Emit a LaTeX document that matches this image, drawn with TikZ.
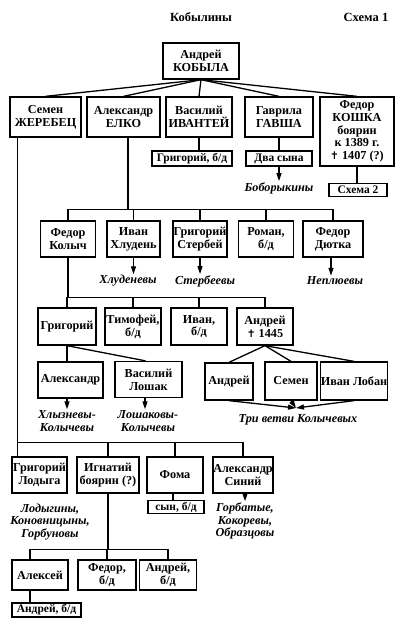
\documentclass[tikz,border=0pt]{standalone}
\usepackage{fontspec}
\setmainfont{Liberation Serif}
\newfontfamily\symfont{DejaVu Sans}
\usetikzlibrary{arrows.meta}
\newcommand{\dcross}{{\symfont\fontsize{10.5}{10}\selectfont ✝}}
\begin{document}
\begin{tikzpicture}[x=1pt,y=-1pt,
  box/.style={draw, line width=1.3pt, align=center, inner sep=0pt, font=\fontsize{12.2}{12.8}\selectfont\bfseries},
  sbox/.style={box, font=\fontsize{11.5}{12}\selectfont\bfseries},
  desc/.style={align=center, inner sep=1pt, font=\fontsize{12.2}{12.8}\selectfont\bfseries\itshape},
  ttl/.style={inner sep=0pt, font=\fontsize{12.5}{13}\selectfont\bfseries},
  link/.style={line width=1.3pt},
  arr/.style={line width=1.3pt, -{Triangle[length=8pt,width=5pt]}},
  ]
\useasboundingbox (0,0) rectangle (400,627);

% titles
\node[ttl] (title) at (201,17) {Кобылины};
\node[ttl] (scheme) at (366,17) {Схема 1};

% generation 1
\node[box, minimum width=76, minimum height=36] (top) at (201,61) {Андрей\\КОБЫЛА};

% generation 2
\node[box, minimum width=71, minimum height=40] (semen) at (45.5,117) {Семен\\ЖЕРЕБЕЦ};
\node[box, minimum width=73, minimum height=40] (elko) at (123.5,117) {Александр\\ЕЛКО};
\node[box, minimum width=66, minimum height=40] (vasiliy) at (199,117) {Василий\\ИВАНТЕЙ};
\node[box, minimum width=68, minimum height=40] (gavrila) at (279,117) {Гаврила\\ГАВША};
\node[box, minimum width=74, minimum height=69] (koshka) at (357,131.5) {Федор\\КОШКА\\боярин\\к 1389 г.\\\dcross\ 1407 (?)};

\node[sbox, minimum width=80, minimum height=15] (grig1) at (192,158.5) {Григорий, б/д};
\node[sbox, minimum width=66, minimum height=15] (dva) at (279,158.5) {Два сына};
\node[desc] (bobor) at (279,188) {Боборыкины};
\node[sbox, minimum width=58, minimum height=13] (shema2) at (358,190) {Схема 2};

\foreach \n in {semen,elko,vasiliy,gavrila,koshka}
  \draw[link] (top.south) -- (\n.north);
\draw[link] (vasiliy.south) -- (vasiliy.south |- grig1.north);
\draw[link] (gavrila.south) -- (dva.north);
\draw[arr] (dva.south) -- (bobor.north);
\draw[link] (koshka.south) -- (koshka.south |- shema2.north);

% generation 3 (children of Elko)
\node[box, minimum width=55, minimum height=36] (kolych) at (68,239) {Федор\\Колыч};
\node[box, minimum width=53, minimum height=36] (hluden) at (133.5,239) {Иван\\Хлудень};
\node[box, minimum width=54, minimum height=36] (sterbey) at (200,239) {Григорий\\Стербей};
\node[box, minimum width=55, minimum height=36] (roman) at (266,239) {Роман,\\б/д};
\node[box, minimum width=60, minimum height=36] (dyutka) at (333,239) {Федор\\Дютка};

\draw[link] ([xshift=4.5]elko.south) -- ([xshift=4.5]elko.south |- 0,210);
\draw[link] (kolych.north) -- ++(0,-11) -| (dyutka.north);
\foreach \n in {hluden,sterbey,roman}
  \draw[link] (\n.north) -- ++(0,-11);

\node[desc] (hludenevy) at (128,281) {Хлуденевы};
\node[desc] (sterbeevy) at (205,281) {Стербеевы};
\node[desc] (neplyuevy) at (335,281) {Неплюевы};
\draw[arr] (hluden.south) -- (hluden.south |- hludenevy.north);
\draw[arr] (sterbey.south) -- (sterbey.south |- sterbeevy.north);
\draw[arr] ([xshift=-2]dyutka.south) -- ([xshift=-2]dyutka.south |- neplyuevy.north);

% generation 4 (children of Kolych)
\node[box, minimum width=58, minimum height=37] (grig2) at (67,326.5) {Григорий};
\node[box, minimum width=56, minimum height=37] (timofey) at (133,326.5) {Тимофей,\\б/д};
\node[box, minimum width=56, minimum height=37] (ivan2) at (199,326.5) {Иван,\\б/д};
\node[box, minimum width=56, minimum height=37] (andrey1445) at (265,326.5) {Андрей\\\dcross\ 1445};

\draw[link] (kolych.south) -- (kolych.south |- 0,298);
\draw[link] (grig2.north) -- ++(0,-10) -| (andrey1445.north);
\foreach \n in {timofey,ivan2}
  \draw[link] (\n.north) -- ++(0,-10);

% generation 5
\node[box, minimum width=65, minimum height=36] (aleks) at (70.5,380) {Александр};
\node[box, minimum width=67, minimum height=36] (loshak) at (148.5,379.5) {Василий\\Лошак};
\node[box, minimum width=48, minimum height=37] (andrey2) at (229,381.5) {Андрей};
\node[box, minimum width=52, minimum height=38] (semen2) at (291,381) {Семен};
\node[box, minimum width=66, minimum height=38] (loban) at (354,381) {Иван Лобан};

\draw[link] (grig2.south) -- (grig2.south |- aleks.north);
\draw[link] (grig2.south) -- ([xshift=-3]loshak.north);
\foreach \n in {andrey2,semen2,loban}
  \draw[link] (andrey1445.south) -- (\n.north);

\node[desc] (hlyznevy) at (67,421) {Хлызневы-\\Колычевы};
\node[desc] (loshakovy) at (148,421) {Лошаковы-\\Колычевы};
\draw[arr] ([xshift=-3.5]aleks.south) -- ([xshift=-3.5]aleks.south |- hlyznevy.north);
\draw[arr] ([xshift=-3.5]loshak.south) -- ([xshift=-3.5]loshak.south |- loshakovy.north);

\coordinate (tri) at (296,408);
\node[desc] (trivetvi) at (298,420) {Три ветви Колычевых};
\foreach \n in {andrey2,semen2,loban}
  \draw[arr] (\n.south) -- (tri);

% generation 3 (children of Zherebets)
\node[box, minimum width=55, minimum height=36] (lodyga) at (39.5,475) {Григорий\\Лодыга};
\node[box, minimum width=62, minimum height=36] (ignat) at (108,475) {Игнатий\\боярин (?)};
\node[box, minimum width=56, minimum height=36] (foma) at (175,475) {Фома};
\node[box, minimum width=60, minimum height=36] (siniy) at (243,475) {Александр\\Синий};

\draw[link] ([xshift=8]semen.south west) -- ([xshift=6]lodyga.north west);
\draw[link] ([xshift=6]lodyga.north west) -- ++(0,-14) -| (siniy.north);
\foreach \n in {ignat,foma}
  \draw[link] (\n.north) -- ++(0,-14);

\node[sbox, minimum width=56, minimum height=13] (synbd) at (176,507) {сын, б/д};
\draw[link] ([xshift=-2]foma.south) -- ([xshift=-2]foma.south |- synbd.north);

\node[desc] (lodyginy) at (50,522) {Лодыгины,\\Коновницыны,\\Горбуновы};
\node[desc] (gorbatye) at (245,521) {Горбатые,\\Кокоревы,\\Образцовы};
\draw[arr] ([xshift=2]siniy.south) -- ([xshift=2]siniy.south |- gorbatye.north);

% children of Ignatiy
\node[box, minimum width=56, minimum height=30] (aleksey) at (40,575) {Алексей};
\node[box, minimum width=58, minimum height=30] (fedorbd) at (107,575) {Федор,\\б/д};
\node[box, minimum width=57, minimum height=30] (andreybd) at (168,575) {Андрей,\\б/д};

\draw[link] (ignat.south) -- (ignat.south |- 0,550);
\draw[link] ([xshift=-10]aleksey.north) -- ++(0,-10) -| (andreybd.north);
\draw[link] (fedorbd.north) -- ++(0,-10);

\node[sbox, minimum width=69, minimum height=14] (andlast) at (46.5,610) {Андрей, б/д};
\draw[link] ([xshift=-10]aleksey.south) -- ([xshift=-10]aleksey.south |- andlast.north);
\end{tikzpicture}
\end{document}
